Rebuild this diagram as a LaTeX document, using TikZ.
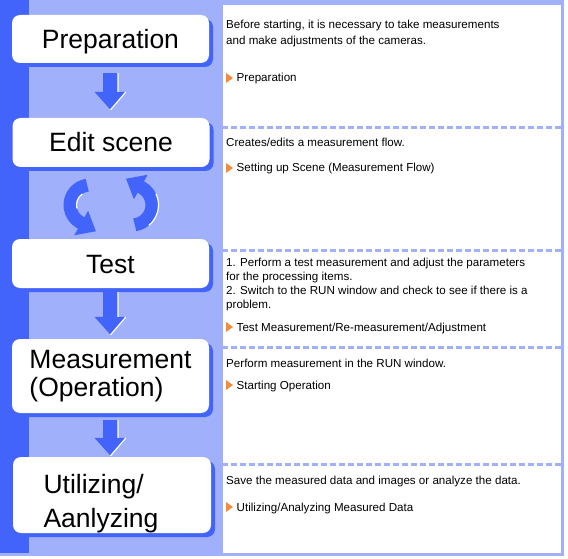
\documentclass[tikz,border=0pt]{standalone}
\usepackage{fontspec}
\setmainfont{Liberation Sans}
\usepackage{tikz}
\usetikzlibrary{calc}
\usetikzlibrary{positioning}
\usetikzlibrary{arrows.meta}
\usetikzlibrary{shadows}
\definecolor{paleblue}{RGB}{160,176,250}
\definecolor{deepblue}{RGB}{66,100,250}
\definecolor{bulletorange}{RGB}{242,140,60}
\tikzset{
  mystep/.style={
    fill=white,
    shape=rectangle,
    rounded corners=8pt,
    inner sep=0pt,
    minimum width=197pt,
    minimum height=48pt,
    text height=19pt,
    text depth=0pt,
    font=\fontsize{26.5}{28.5}\selectfont,
    drop shadow={shadow xshift=4pt, shadow yshift=-4pt, fill=deepblue, opacity=1},
  },
  myarrow/.style={
    draw=deepblue,
    line width=15pt,
    -{Triangle[width=31pt,length=18pt]},
  },
  mycycle/.style={
    draw=deepblue,
    line width=13pt,
    -{Triangle[width=27pt,length=17pt]},
  },
  myshine/.style={
    draw=white,
    line width=1.2pt,
  },
  mydesc/.style={
    anchor=base west,
    inner sep=0pt,
    font=\fontsize{11.6}{14}\selectfont,
  },
  mylink/.style={
    mydesc,
  },
  mysep/.style={
    draw=paleblue,
    line width=3pt,
    dash pattern=on 6pt off 3pt,
  },
}

\begin{document}
\begin{tikzpicture}[x=1pt, y=-1pt]
  \useasboundingbox (0,0) rectangle (568,559);
  \fill[white] (0,0) rectangle (568,559);
  \fill[paleblue] (0,0) rectangle (564,556);
  \fill[white] (223,5) rectangle (561,553);
  \fill[deepblue] (0,0) rectangle (29,553);

  % steps
  \node[mystep] (prep) at (110.5,39) {Preparation};
  \node[mystep, minimum height=49pt] (edit) at (111,142.5) {Edit scene};
  \node[mystep, minimum height=49pt] (test) at (110.5,263.5) {Test};
  \node[mystep, minimum height=74pt, text height=41.4pt] (meas) at (110.5,376)
    {\begin{tabular}[b]{@{}l@{}}Measurement\\(Operation)\end{tabular}};
  \node[mystep, minimum width=198pt, minimum height=76pt, text height=64pt,
    font=\fontsize{26.5}{34}\selectfont] (util) at (112,495)
    {\makebox[137pt][l]{\begin{tabular}[b]{@{}l@{}}Utilizing/\\Aanlyzing\end{tabular}}};

  \foreach \a/\b/\s/\e in {prep/edit/10/8, test/meas/4/4, meas/util/7/1} {
    \draw[myarrow, shorten <=\s pt, shorten >=\e pt] (\a.south) -- (\a.south |- \b.north);
    \draw[myshine] ($(\a.south)+(7.5,\s)$) -- ($(\a.south |- \b.north)+(7.5,-\e-18)$)
      ($(\a.south |- \b.north)+(15.5,-\e-18)$) -- ($(\a.south |- \b.north)+(0,-\e)$);
  }

  % edit <-> test
  \coordinate (cyc) at (111,205);
  \draw[mycycle] ([xshift=-21pt]cyc) ++(262:20) arc[start angle=262, end angle=120, radius=20] -- ++(16,9);
  \draw[mycycle] ([xshift=21pt]cyc) ++(82:20) arc[start angle=82, end angle=-60, radius=20] -- ++(-16,-9);
  \draw[myshine] ([xshift=-21pt]cyc) ++(235:13.5) arc[start angle=235, end angle=165, radius=13.5];
  \draw[myshine] ([xshift=21pt]cyc) ++(50:26.5) arc[start angle=50, end angle=-25, radius=26.5];

  % separators
  \foreach \y in {128,250,347,464}
    \draw[mysep] (222,\y) -- (562,\y);

  % descriptions
  \node[mydesc] (prepA) at (226,29) {Before starting, it is necessary to take measurements};
  \node[mydesc] (prepB) at (226,45) {and make adjustments of the cameras.};
  \node[mylink] (prepLink) at (236.5,82) {Preparation};

  \node[mydesc] (editA) at (226,147) {Creates/edits a measurement flow.};
  \node[mylink] (editLink) at (236.5,172) {Setting up Scene (Measurement Flow)};

  \node[mydesc] (testA) at (226,266) {1. Perform a test measurement and adjust the parameters};
  \node[mydesc] (testB) at (226,280) {for the processing items.};
  \node[mydesc] (testC) at (226,294) {2. Switch to the RUN window and check to see if there is a};
  \node[mydesc] (testD) at (226,308) {problem.};
  \node[mylink] (testLink) at (236.5,331) {Test Measurement/Re-measurement/Adjustment};

  \node[mydesc] (measA) at (226,367) {Perform measurement in the RUN window.};
  \node[mylink] (measLink) at (236.5,389) {Starting Operation};

  \node[mydesc] (utilA) at (226,484) {Save the measured data and images or analyze the data.};
  \node[mylink] (utilLink) at (236.5,511) {Utilizing/Analyzing Measured Data};

  \foreach \lnk in {prepLink,editLink,testLink,measLink,utilLink}
    \fill[bulletorange] ([xshift=-10.5pt]\lnk.base west) ++(0,1) -- ++(0,-10) -- ++(7,5) -- cycle;
\end{tikzpicture}
\end{document}
